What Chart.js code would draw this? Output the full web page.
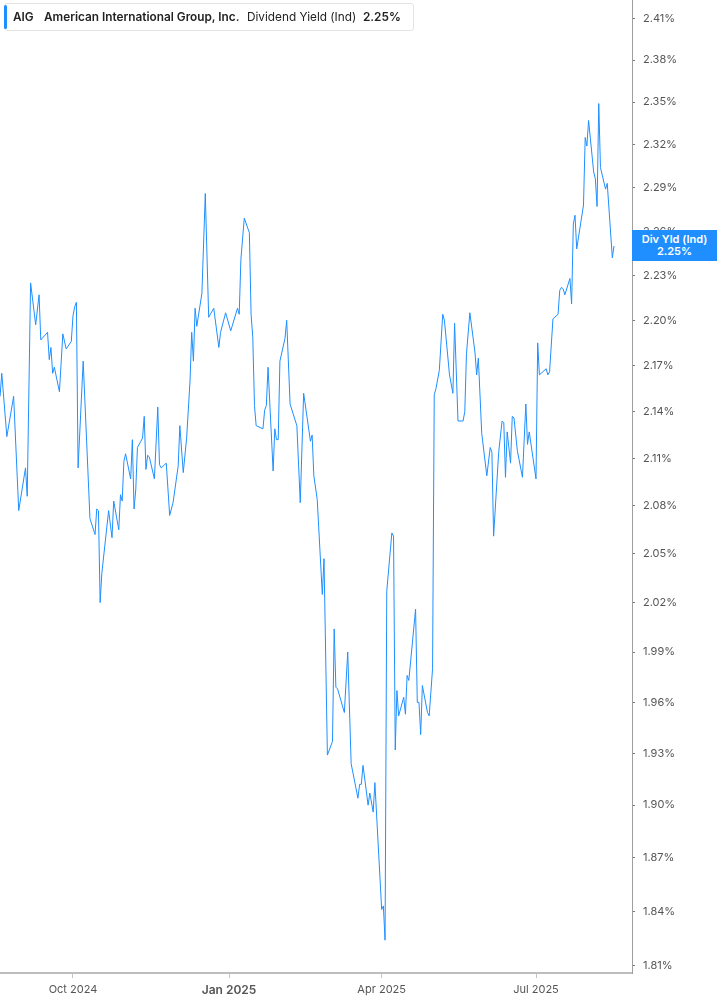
<!DOCTYPE html>
<html>
<head>
<meta charset="utf-8">
<title>AIG Dividend Yield</title>
<script src="https://cdn.jsdelivr.net/npm/chart.js@4.4.1/dist/chart.umd.min.js"></script>
<style>
  html, body { margin: 0; padding: 0; background: #fff; }
  body { width: 717px; height: 1005px; position: relative; overflow: hidden; font-family: Inter, Roboto, "Noto Sans", sans-serif; }
  #yieldChart { position: absolute; left: 0; top: 0; }
  .legend { position: absolute; left: 4px; top: 3px; width: 408px; height: 26px; border: 1px solid #e4e4e4; border-radius: 3px; background: #fff; font-size: 11.8px; color: #222; }
  .legend span { position: absolute; top: 6px; white-space: nowrap; line-height: 14px; }
  .legend .bar { left: -1px; top: 1px; width: 3px; height: 24px; background: #1f8fff; border-radius: 2px; }
  .legend .b { font-weight: 600; }
  .tag { position: absolute; width: 85px; height: 31px; background: #1f8fff; color: #fff; font-size: 11px; font-weight: 600; text-align: center; line-height: 12px; box-sizing: border-box; padding-top: 3px; }
</style>
</head>
<body>
<canvas id="yieldChart" width="717" height="1005"></canvas>
<div class="legend">
  <span class="bar"></span>
  <span class="b" style="left:8px">AIG</span>
  <span class="b" style="left:39px">American International Group, Inc.</span>
  <span style="left:242px">Dividend Yield (Ind)</span>
  <span class="b" id="headVal" style="left:358px"></span>
</div>
<div class="tag" id="lastTag"><div>Div Yld (Ind)</div><div id="tagVal"></div></div>
<script>
// Dates of the plotted points
const dates = [
  '2024-08-19','2024-08-20','2024-08-23','2024-08-27','2024-08-30','2024-09-03','2024-09-04','2024-09-06','2024-09-09','2024-09-11',
  '2024-09-12','2024-09-16','2024-09-17','2024-09-18','2024-09-19','2024-09-20','2024-09-23','2024-09-25','2024-09-27','2024-09-30',
  '2024-10-01','2024-10-02','2024-10-03','2024-10-04','2024-10-07','2024-10-11','2024-10-14','2024-10-15','2024-10-16','2024-10-17',
  '2024-10-18','2024-10-22','2024-10-24','2024-10-25','2024-10-28','2024-10-29','2024-10-30','2024-10-31','2024-11-01','2024-11-04',
  '2024-11-05','2024-11-06','2024-11-07','2024-11-08','2024-11-10','2024-11-11','2024-11-12','2024-11-13','2024-11-14','2024-11-15',
  '2024-11-18','2024-11-20','2024-11-21','2024-11-22','2024-11-25','2024-11-27','2024-11-29','2024-12-02','2024-12-03','2024-12-05',
  '2024-12-07','2024-12-09','2024-12-10','2024-12-11','2024-12-12','2024-12-13','2024-12-16','2024-12-18','2024-12-20','2024-12-23',
  '2024-12-26','2024-12-27','2024-12-30','2025-01-02','2025-01-06','2025-01-07','2025-01-08','2025-01-10','2025-01-13','2025-01-14',
  '2025-01-15','2025-01-16','2025-01-17','2025-01-21','2025-01-22','2025-01-23','2025-01-24','2025-01-27','2025-01-28','2025-01-29',
  '2025-01-30','2025-01-31','2025-02-03','2025-02-04','2025-02-06','2025-02-10','2025-02-12','2025-02-14','2025-02-18','2025-02-19',
  '2025-02-20','2025-02-22','2025-02-25','2025-02-26','2025-02-28','2025-03-03','2025-03-04','2025-03-05','2025-03-06','2025-03-10',
  '2025-03-12','2025-03-14','2025-03-18','2025-03-19','2025-03-20','2025-03-21','2025-03-24','2025-03-25','2025-03-27','2025-03-28',
  '2025-04-01','2025-04-02','2025-04-03','2025-04-04','2025-04-07','2025-04-08','2025-04-09','2025-04-10','2025-04-11','2025-04-14',
  '2025-04-15','2025-04-16','2025-04-17','2025-04-21','2025-04-22','2025-04-23','2025-04-24','2025-04-25','2025-04-28','2025-04-29',
  '2025-05-01','2025-05-02','2025-05-03','2025-05-05','2025-05-07','2025-05-08','2025-05-11','2025-05-13','2025-05-14','2025-05-16',
  '2025-05-19','2025-05-20','2025-05-21','2025-05-23','2025-05-26','2025-05-27','2025-05-28','2025-05-30','2025-06-02','2025-06-04',
  '2025-06-05','2025-06-06','2025-06-09','2025-06-11','2025-06-12','2025-06-13','2025-06-14','2025-06-16','2025-06-17','2025-06-18',
  '2025-06-20','2025-06-23','2025-06-25','2025-06-26','2025-06-27','2025-07-01','2025-07-02','2025-07-03','2025-07-07','2025-07-08',
  '2025-07-09','2025-07-11','2025-07-14','2025-07-15','2025-07-16','2025-07-17','2025-07-18','2025-07-21','2025-07-22','2025-07-23',
  '2025-07-24','2025-07-25','2025-07-29','2025-07-30','2025-07-31','2025-08-01','2025-08-04','2025-08-05','2025-08-06','2025-08-07',
  '2025-08-08','2025-08-11','2025-08-12','2025-08-15','2025-08-16'
];

// Dividend yield (%)
const yields = [
  2.150, 2.165, 2.124, 2.150, 2.077, 2.104, 2.086, 2.225, 2.197, 2.217,
  2.187, 2.192, 2.174, 2.182, 2.165, 2.169, 2.153, 2.191, 2.181, 2.186,
  2.203, 2.209, 2.212, 2.104, 2.173, 2.072, 2.062, 2.078, 2.077, 2.020,
  2.038, 2.077, 2.060, 2.083, 2.065, 2.087, 2.083, 2.108, 2.113, 2.097,
  2.122, 2.078, 2.090, 2.117, 2.121, 2.123, 2.137, 2.103, 2.112, 2.111,
  2.097, 2.143, 2.106, 2.104, 2.107, 2.074, 2.082, 2.105, 2.131, 2.101,
  2.123, 2.160, 2.192, 2.173, 2.208, 2.196, 2.218, 2.286, 2.202, 2.208,
  2.182, 2.192, 2.205, 2.193, 2.208, 2.204, 2.241, 2.269, 2.259, 2.204,
  2.189, 2.144, 2.131, 2.129, 2.141, 2.144, 2.169, 2.102, 2.129, 2.122,
  2.122, 2.173, 2.188, 2.200, 2.145, 2.131, 2.082, 2.152, 2.121, 2.125,
  2.099, 2.084, 2.025, 2.047, 1.929, 1.937, 2.004, 1.969, 1.968, 1.954,
  1.990, 1.924, 1.904, 1.912, 1.912, 1.923, 1.900, 1.907, 1.896, 1.913,
  1.841, 1.843, 1.824, 2.027, 2.063, 2.061, 1.932, 1.967, 1.952, 1.963,
  1.953, 1.976, 1.973, 2.016, 1.960, 1.960, 1.941, 1.970, 1.954, 1.952,
  1.980, 2.151, 2.155, 2.167, 2.204, 2.200, 2.164, 2.152, 2.198, 2.134,
  2.134, 2.140, 2.178, 2.205, 2.179, 2.164, 2.175, 2.126, 2.099, 2.117,
  2.114, 2.061, 2.114, 2.134, 2.133, 2.098, 2.127, 2.107, 2.137, 2.136,
  2.115, 2.098, 2.145, 2.119, 2.127, 2.097, 2.185, 2.164, 2.168, 2.164,
  2.166, 2.201, 2.204, 2.220, 2.222, 2.221, 2.217, 2.228, 2.211, 2.265,
  2.271, 2.248, 2.278, 2.325, 2.319, 2.337, 2.301, 2.296, 2.277, 2.349,
  2.304, 2.289, 2.293, 2.242, 2.250
];

// Axis ticks
const xTickDates = ['2024-10-01', '2025-01-01', '2025-04-01', '2025-07-01'];
const xTickLabels = ['Oct 2024', 'Jan 2025', 'Apr 2025', 'Jul 2025'];
const yTicks = [1.81, 1.84, 1.87, 1.90, 1.93, 1.96, 1.99, 2.02, 2.05, 2.08, 2.11,
                2.14, 2.17, 2.20, 2.23, 2.26, 2.29, 2.32, 2.35, 2.38, 2.41];

const LINE_BLUE = '#1f8fff';
const dayNum = s => Date.parse(s + 'T00:00:00Z') / 864e5;

const points = dates.map((d, i) => ({ x: dayNum(d), y: yields[i] }));
const lastYield = yields[yields.length - 1];
document.getElementById('headVal').textContent = lastYield.toFixed(2) + '%';
document.getElementById('tagVal').textContent = lastYield.toFixed(2) + '%';

// place the blue value tag next to the last point
const lastTagPlugin = {
  id: 'lastTag',
  afterDraw(chart) {
    const y = chart.scales.y.getPixelForValue(lastYield);
    const tag = document.getElementById('lastTag');
    tag.style.left = chart.chartArea.right + 'px';
    tag.style.top = (y - 15.5) + 'px';
  }
};

const ctx = document.getElementById('yieldChart').getContext('2d');
new Chart(ctx, {
  type: 'line',
  data: {
    datasets: [{
      label: 'Dividend Yield (Ind)',
      data: points,
      borderColor: LINE_BLUE,
      borderWidth: 1,
      pointRadius: 0,
      tension: 0,
      fill: false
    }]
  },
  options: {
    responsive: false,
    animation: false,
    devicePixelRatio: 1,
    layout: { padding: 0 },
    plugins: {
      legend: { display: false },
      tooltip: { enabled: false }
    },
    scales: {
      x: {
        type: 'linear',
        min: dayNum('2024-08-19') - 0.04,
        max: dayNum('2025-08-26') + 0.6,
        afterBuildTicks: scale => { scale.ticks = xTickDates.map(d => ({ value: dayNum(d) })); },
        afterFit: scale => { scale.height = 32; scale.paddingLeft = 0; scale.paddingRight = 0; },
        grid: { drawOnChartArea: false, drawTicks: true, tickLength: 5, color: '#c4c4c4' },
        border: { display: true, color: '#bdbdbd', width: 2 },
        ticks: {
          autoSkip: false,
          maxRotation: 0,
          padding: 5,
          color: '#555',
          font: c => (c.index === 1 ? { family: 'Inter', size: 12, weight: '600' } : { family: 'Inter', size: 11 }),
          callback: (v, i) => xTickLabels[i]
        }
      },
      y: {
        type: 'logarithmic',
        position: 'right',
        min: 1.806,
        max: 2.4237,
        afterBuildTicks: scale => { scale.ticks = yTicks.map(v => ({ value: v })); },
        // full-height plot: no label overhang padding
        afterFit: scale => { scale.width = 85; scale.paddingTop = 0; scale.paddingBottom = 0; },
        grid: { drawOnChartArea: false, drawTicks: true, tickLength: 3, color: '#777' },
        border: { display: true, color: '#9e9e9e', width: 1 },
        ticks: {
          autoSkip: false,
          padding: 8,
          color: '#555',
          font: { family: 'Inter', size: 11 },
          callback: v => Number(v).toFixed(2) + '%'
        }
      }
    }
  },
  plugins: [lastTagPlugin]
});
</script>
</body>
</html>
